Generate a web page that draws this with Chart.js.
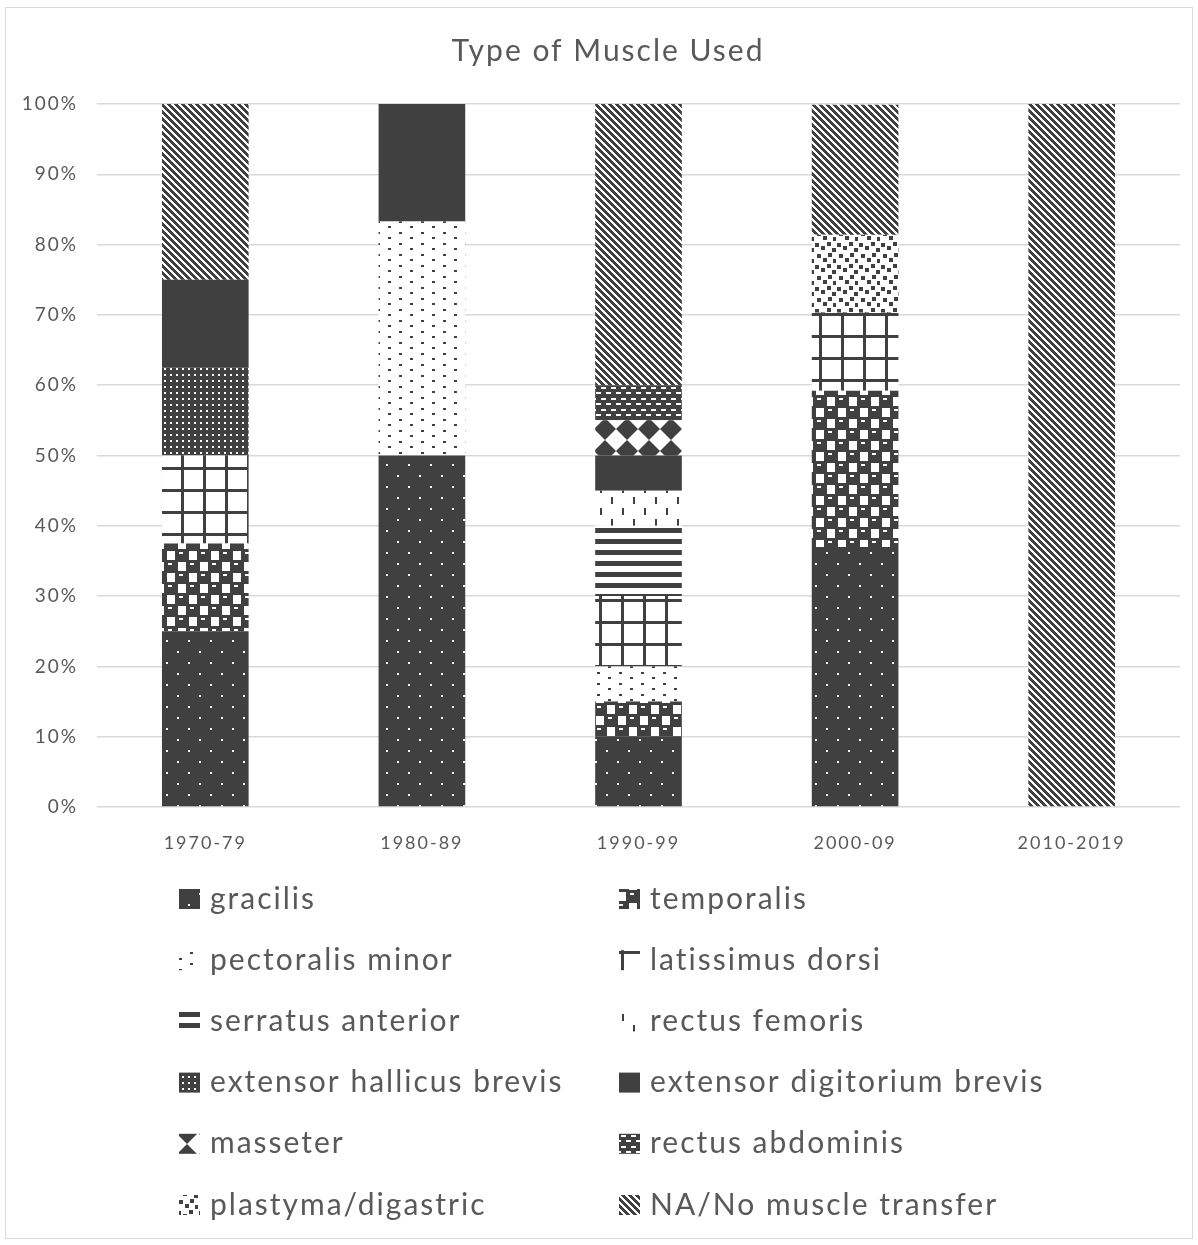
<!DOCTYPE html>
<html>
<head>
<meta charset="utf-8">
<title>Type of Muscle Used</title>
<script src="https://cdn.jsdelivr.net/npm/chart.js@4.4.1/dist/chart.umd.min.js"></script>
<style>
  html, body { margin: 0; padding: 0; background: #ffffff; }
  canvas { display: block; }
</style>
</head>
<body>
<canvas id="chart" width="1198" height="1245"></canvas>
<script>
// Decades on the x axis
const categories = ['1970-79', '1980-89', '1990-99', '2000-09', '2010-2019'];

// Share of cases (%) per decade for each muscle
const gracilis                 = [25,   50,   10, 37.0, 0];
const temporalis               = [12.5, 0,    5,  22.2, 0];
const pectoralisMinor          = [0,    33.3, 5,  0,    0];
const latissimusDorsi          = [12.5, 0,    10, 11.1, 0];
const serratusAnterior         = [0,    0,    10, 0,    0];
const rectusFemoris            = [0,    0,    5,  0,    0];
const extensorHallicusBrevis   = [12.5, 0,    0,  0,    0];
const extensorDigitoriumBrevis = [12.5, 16.7, 5,  0,    0];
const masseter                 = [0,    0,    5,  0,    0];
const rectusAbdominis          = [0,    0,    5,  0,    0];
const plastymaDigastric        = [0,    0,    0,  11.1, 0];
const noMuscleTransfer         = [25,   0,    40, 18.5, 100];

// Y axis ticks
const yTicks = [0, 10, 20, 30, 40, 50, 60, 70, 80, 90, 100];

const TITLE = 'Type of Muscle Used';
const INK = '#404040';
const TEXT = '#595959';
const SPACING = '2px';

// Build a repeating fill pattern from a small tile
function tile(w, h, paint) {
  const c = document.createElement('canvas');
  c.width = w; c.height = h;
  const g = c.getContext('2d');
  g.fillStyle = '#ffffff';
  g.fillRect(0, 0, w, h);
  g.fillStyle = INK;
  paint(g, w, h);
  return g.createPattern(c, 'repeat');
}

// Sphere-like blob with a small highlight, drawn with wrap-around copies
function blob(g, x, y) {
  for (const dx of [-22, 0, 22]) {
    for (const dy of [-22, 0, 22]) {
      g.fillStyle = INK;
      g.fillRect(x + dx, y + dy + 1, 14, 11);
      g.fillRect(x + dx + 1, y + dy, 12, 13);
      g.fillStyle = '#ffffff';
      g.fillRect(x + dx + 4, y + dy + 3, 4, 2);
    }
  }
}

const fills = {
  // dark with sparse white dots
  gracilis: tile(22, 22, g => {
    g.fillRect(0, 0, 22, 22);
    g.fillStyle = '#ffffff';
    g.fillRect(12, 2, 2, 2);
    g.fillRect(1, 13, 2, 2);
  }),
  // "sphere" checker
  temporalis: tile(22, 22, g => {
    blob(g, -1, -1);
    blob(g, 10, 10);
  }),
  // white with staggered small dots
  pectoralisMinor: tile(22, 11, g => {
    g.fillRect(3, 1, 3, 2);
    g.fillRect(14, 6, 3, 2);
  }),
  // large grid
  latissimusDorsi: tile(22, 22, g => {
    g.fillRect(5, 0, 3, 22);
    g.fillRect(0, 5, 22, 3);
  }),
  // wide horizontal bands
  serratusAnterior: tile(11, 11, g => {
    g.fillRect(0, 0, 11, 5);
  }),
  // short vertical dashes
  rectusFemoris: tile(22, 22, g => {
    g.fillRect(6, 2, 2, 7);
    g.fillRect(17, 13, 2, 7);
  }),
  // dense small checks
  extensorHallicusBrevis: tile(6, 6, g => {
    g.fillRect(0, 0, 6, 6);
    g.fillStyle = '#ffffff';
    g.fillRect(2, 2, 2, 2);
  }),
  extensorDigitoriumBrevis: INK,
  // diamonds
  masseter: tile(22, 22, g => {
    g.beginPath();
    g.moveTo(11, 0); g.lineTo(22, 11); g.lineTo(11, 22); g.lineTo(0, 11);
    g.closePath();
    g.fill();
  }),
  // dark with white horizontal dashes
  rectusAbdominis: tile(10, 11, g => {
    g.fillRect(0, 0, 10, 11);
    g.fillStyle = '#ffffff';
    g.fillRect(1, 2, 5, 2);
    g.fillRect(6, 7, 5, 2);
    g.fillRect(0, 7, 1, 2);
  }),
  // scattered squares
  plastymaDigastric: tile(22, 22, g => {
    [[1, 1], [7, 4], [13, 0], [18, 6], [3, 12], [9, 16], [14, 11], [19, 17]]
      .forEach(([x, y]) => g.fillRect(x, y, 4, 4));
  }),
  // downward diagonal stripes
  noMuscleTransfer: tile(7, 7, g => {
    for (let y = 0; y < 7; y++) {
      for (let x = 0; x < 7; x++) {
        if (((x - y) % 7 + 7) % 7 < 4) g.fillRect(x, y, 1, 1);
      }
    }
  })
};

const series = [
  ['gracilis', gracilis, fills.gracilis],
  ['temporalis', temporalis, fills.temporalis],
  ['pectoralis minor', pectoralisMinor, fills.pectoralisMinor],
  ['latissimus dorsi', latissimusDorsi, fills.latissimusDorsi],
  ['serratus anterior', serratusAnterior, fills.serratusAnterior],
  ['rectus femoris', rectusFemoris, fills.rectusFemoris],
  ['extensor hallicus brevis', extensorHallicusBrevis, fills.extensorHallicusBrevis],
  ['extensor digitorium brevis', extensorDigitoriumBrevis, fills.extensorDigitoriumBrevis],
  ['masseter', masseter, fills.masseter],
  ['rectus abdominis', rectusAbdominis, fills.rectusAbdominis],
  ['plastyma/digastric', plastymaDigastric, fills.plastymaDigastric],
  ['NA/No muscle transfer', noMuscleTransfer, fills.noMuscleTransfer]
];

// Frame around the whole figure, and the loose letter spacing used by all text
const frame = {
  id: 'frame',
  beforeDraw(chart) {
    const ctx = chart.ctx;
    ctx.save();
    ctx.fillStyle = '#ffffff';
    ctx.fillRect(0, 0, chart.width, chart.height);
    ctx.strokeStyle = '#d9d9d9';
    ctx.lineWidth = 1;
    ctx.strokeRect(5.5, 7.5, chart.width - 11, chart.height - 14);
    ctx.restore();
    ctx.letterSpacing = SPACING;
  }
};

// Chart heading, centred over the figure
const heading = {
  id: 'heading',
  afterDraw(chart, args, opts) {
    const ctx = chart.ctx;
    ctx.save();
    ctx.letterSpacing = SPACING;
    ctx.font = opts.font;
    ctx.fillStyle = opts.color;
    ctx.textAlign = 'center';
    ctx.textBaseline = 'middle';
    ctx.fillText(opts.text, chart.width / 2 + opts.shift, opts.y);
    ctx.restore();
  }
};

// Two-column legend below the axis
const legendGrid = {
  id: 'legendGrid',
  afterDraw(chart, args, opts) {
    const ctx = chart.ctx;
    ctx.save();
    ctx.letterSpacing = SPACING;
    ctx.font = opts.font;
    ctx.textBaseline = 'middle';
    ctx.textAlign = 'left';
    chart.data.datasets.forEach((ds, i) => {
      const col = i % 2;
      const row = Math.floor(i / 2);
      const x = opts.columns[col];
      const y = opts.top + row * opts.rowStep;
      ctx.fillStyle = ds.backgroundColor;
      ctx.fillRect(x, y - 10, 21, 20);
      ctx.fillStyle = opts.color;
      ctx.fillText(ds.label, x + 31, y);
    });
    ctx.restore();
  }
};

Chart.defaults.font.family = 'Lato, "Open Sans", sans-serif';
Chart.defaults.color = TEXT;

new Chart(document.getElementById('chart'), {
  type: 'bar',
  data: {
    labels: categories,
    datasets: series.map(([label, data, fill]) => ({
      label,
      data,
      backgroundColor: fill,
      borderWidth: 0,
      categoryPercentage: 1,
      barPercentage: 0.4
    }))
  },
  options: {
    responsive: false,
    animation: false,
    layout: { padding: { left: 0, right: 18, top: 104, bottom: 0 } },
    plugins: {
      legend: { display: false },
      title: { display: false },
      tooltip: { enabled: false },
      heading: {
        text: TITLE,
        font: '30px Lato, "Open Sans", sans-serif',
        color: TEXT,
        shift: 9,
        y: 51
      },
      legendGrid: {
        columns: [179, 619],
        top: 899,
        rowStep: 61.2,
        font: '30px Lato, "Open Sans", sans-serif',
        color: TEXT
      }
    },
    scales: {
      x: {
        stacked: true,
        grid: { display: false },
        border: { display: false },
        ticks: { color: TEXT, font: { size: 18 }, padding: 17, maxRotation: 0 },
        afterFit(scale) { scale.height = 438; }
      },
      y: {
        stacked: true,
        min: 0,
        max: 100,
        afterBuildTicks(scale) { scale.ticks = yTicks.map(v => ({ value: v })); },
        grid: { color: '#d9d9d9', lineWidth: 1.5, drawTicks: false },
        border: { display: false },
        ticks: { color: TEXT, font: { size: 19 }, padding: 19, callback: v => v + '%' },
        afterFit(scale) { scale.width = 97; }
      }
    }
  },
  plugins: [frame, heading, legendGrid]
});
</script>
</body>
</html>
